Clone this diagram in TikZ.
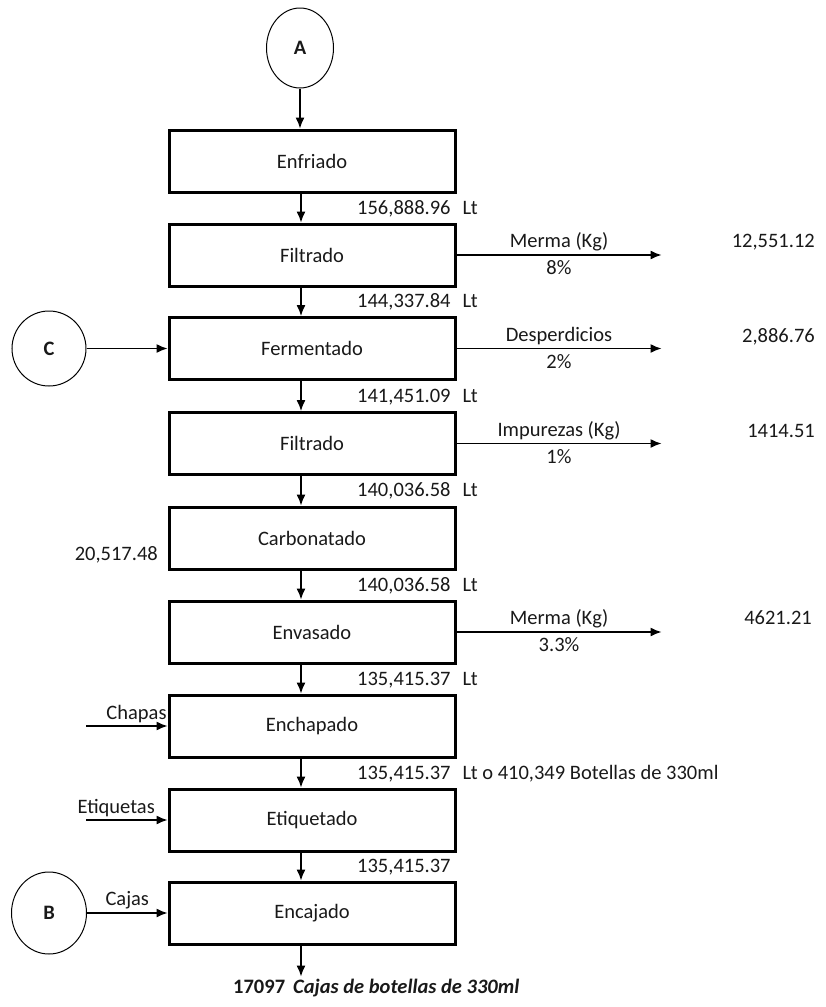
\documentclass[tikz,border=0pt]{standalone}
\usepackage{fontspec}
\setmainfont{Carlito}
\usetikzlibrary{calc,arrows,arrows.meta,positioning,shapes.geometric}

\begin{document}
\begin{tikzpicture}[x=1pt, y=-1pt, line/.style={>={Latex[length=11pt, width=9pt]}, line width=1.3pt},
        every node/.style={font=\fontsize{20.5}{24}\selectfont, text=black!90},
        paso/.style={draw, line width=3pt, minimum width=286pt, minimum height=62pt, inner sep=0pt},
        conector/.style={draw, ellipse, line width=1pt, inner sep=0pt, font=\fontsize{20.5}{24}\selectfont\bfseries},
        flujo/.style={anchor=west, inner sep=0pt},
        valor/.style={anchor=east, inner sep=0pt}]
        \useasboundingbox (0, 0) rectangle (826, 1007);

        % etapas del proceso
        \node[paso] (enfriado) at (312, 161) {Enfriado};
        \node[paso] (filtrado) at (312, 255) {Filtrado};
        \node[paso] (fermentado) at (312, 348.5) {Fermentado};
        \node[paso] (filtrado2) at (312, 443.5) {Filtrado};
        \node[paso] (carbonatado) at (312, 538) {Carbonatado};
        \node[paso] (envasado) at (312, 632) {Envasado};
        \node[paso] (enchapado) at (312, 726) {Enchapado};
        \node[paso] (etiquetado) at (312, 820) {Etiquetado};
        \node[paso] (encajado) at (312, 913) {Encajado};

        % conectores
        \node[conector, minimum width=67pt, minimum height=80pt] (A) at (300, 48) {A};
        \node[conector, minimum width=74pt, minimum height=75pt] (C) at (49, 348.5) {C};
        \node[conector, minimum width=75pt, minimum height=82pt] (B) at (49, 913) {B};

        \draw[->, line] (A.south) -- (A.south |- enfriado.north);
        \draw[->, line] (C.east) -- (fermentado.west);
        \draw[->, line] (B.east) -- node[above, inner sep=3pt, pos=0.5] (cajas) {Cajas} (encajado.west);

        % flechas entre etapas
        \draw[->, line] ($(enfriado.south)+(-11,0)$) -- ($(filtrado.north)+(-11,0)$);
        \draw[->, line] ($(filtrado.south)+(-11,0)$) -- ($(fermentado.north)+(-11,0)$);
        \draw[->, line] ($(fermentado.south)+(-11,0)$) -- ($(filtrado2.north)+(-11,0)$);
        \draw[->, line] ($(filtrado2.south)+(-11,0)$) -- ($(carbonatado.north)+(-11,0)$);
        \draw[->, line] ($(carbonatado.south)+(-11,0)$) -- ($(envasado.north)+(-11,0)$);
        \draw[->, line] ($(envasado.south)+(-11,0)$) -- ($(enchapado.north)+(-11,0)$);
        \draw[->, line] ($(enchapado.south)+(-11,0)$) -- ($(etiquetado.north)+(-11,0)$);
        \draw[->, line] ($(etiquetado.south)+(-11,0)$) -- ($(encajado.north)+(-11,0)$);
        \draw[->, line] ($(encajado.south)+(-11,0)$) -- ++(0, 31) coordinate (fin);

        % caudales
        \node[flujo] (q1) at (357, 209) {156,888.96\hspace{12pt}Lt};
        \node[flujo] (q2) at (357, 302) {144,337.84\hspace{12pt}Lt};
        \node[flujo] (q3) at (357, 397) {141,451.09\hspace{12pt}Lt};
        \node[flujo] (q4) at (357, 491) {140,036.58\hspace{12pt}Lt};
        \node[flujo] (q5) at (357, 586) {140,036.58\hspace{12pt}Lt};
        \node[flujo] (q6) at (357, 680) {135,415.37\hspace{12pt}Lt};
        \node[flujo] (q7) at (357, 774) {135,415.37\hspace{12pt}Lt o 410,349 Botellas de 330ml};
        \node[flujo] (q8) at (357, 867) {135,415.37};

        % salidas laterales
        \draw[->, line] (filtrado.east) -- ++(205, 0) coordinate (s1)
            node[midway, above, inner sep=3pt] (m1) {Merma (Kg)}
            node[midway, below, inner sep=5pt] (p1) {8\%};
        \draw[->, line] (fermentado.east) -- ++(205, 0) coordinate (s2)
            node[midway, above, inner sep=3pt] (m2) {Desperdicios}
            node[midway, below, inner sep=5pt] (p2) {2\%};
        \draw[->, line] (filtrado2.east) -- ++(205, 0) coordinate (s3)
            node[midway, above, inner sep=3pt] (m3) {Impurezas (Kg)}
            node[midway, below, inner sep=5pt] (p3) {1\%};
        \draw[->, line] (envasado.east) -- ++(205, 0) coordinate (s4)
            node[midway, above, inner sep=3pt] (m4) {Merma (Kg)}
            node[midway, below, inner sep=5pt] (p4) {3.3\%};

        \node[valor] (v1) at (815, 242) {12,551.12};
        \node[valor] (v2) at (815, 337) {2,886.76};
        \node[valor] (v3) at (815, 431) {1414.51};
        \node[valor] (v4) at (812, 618) {4621.21};

        % entradas
        \node[valor] (co2) at (158, 555) {20,517.48};
        \coordinate (ch) at (86, 726);
        \coordinate (et) at (86, 820);
        \draw[->, line] (ch) -- node[above, inner sep=3pt, pos=0.62] (chapas) {Chapas} (enchapado.west);
        \draw[->, line] (et) -- node[above, inner sep=3pt, pos=0.37] (etiquetas) {Etiquetas} (etiquetado.west);

        \node[flujo, anchor=north west] (cajasfin) at (233, 979) {\textbf{17097}\hspace{8pt}\textbf{\textit{Cajas de botellas de 330ml}}};
    \end{tikzpicture}
\end{document}
